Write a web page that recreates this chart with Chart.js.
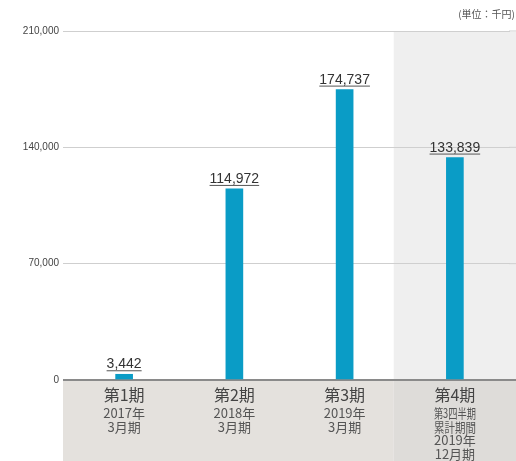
<!DOCTYPE html>
<html><head><meta charset="utf-8">
<script src="https://cdn.jsdelivr.net/npm/chart.js@4/dist/chart.umd.min.js"></script>
<style>html,body{margin:0;padding:0;background:#fff;}#wrap{width:516px;height:461px;}</style>
</head><body><div id="wrap"><canvas id="c" width="516" height="461"></canvas></div>
<script>
const categories = ['第1期','第2期','第3期','第4期'];
const subLabels = [['2017年','3月期'],['2018年','3月期'],['2019年','3月期'],['第3四半期','累計期間','2019年','12月期']];
const values = [3442, 114972, 174737, 133839];
const yTicks = [0, 70000, 140000, 210000];
const unitLabel = '(単位：千円)';

const JP = "'Noto Sans CJK JP', 'Noto Sans', sans-serif";
const NUM = "'Liberation Sans', Arial, sans-serif";

const deco = {
  id: 'deco',
  beforeDraw(chart) {
    const {ctx, chartArea: a, scales: {x, y}} = chart;
    const W = chart.width, H = chart.height;
    const split = (x.getPixelForValue(2) + x.getPixelForValue(3)) / 2 - 6;
    ctx.save();
    ctx.fillStyle = '#efefef';
    ctx.fillRect(split, y.getPixelForValue(210000) + 1, W - split, a.bottom - y.getPixelForValue(210000));
    ctx.fillStyle = '#e4e1dd';
    ctx.fillRect(a.left - 6, a.bottom, split - (a.left - 6), H - a.bottom);
    ctx.fillStyle = '#dedcd9';
    ctx.fillRect(split, a.bottom, W - split, H - a.bottom);
    ctx.restore();
  },
  afterDatasetsDraw(chart) {
    const {ctx, chartArea: a, scales: {x, y}} = chart;
    const W = chart.width;
    ctx.save();
    yTicks.forEach(v => {
      const py = y.getPixelForValue(v);
      ctx.strokeStyle = v === 0 ? '#8a8a8a' : '#cfcfcf';
      ctx.lineWidth = v === 0 ? 2 : 1;
      ctx.beginPath(); ctx.moveTo(a.right - 1, py); ctx.lineTo(W, py); ctx.stroke();
    });
    const meta = chart.getDatasetMeta(0);
    ctx.font = "14px " + NUM;
    ctx.textAlign = 'center';
    ctx.textBaseline = 'alphabetic';
    meta.data.forEach((bar, i) => {
      const txt = values[i].toLocaleString('en-US');
      const by = bar.y - 6;
      ctx.fillStyle = '#333';
      ctx.fillText(txt, bar.x, by);
      const w = ctx.measureText(txt).width;
      ctx.strokeStyle = '#555';
      ctx.lineWidth = 1;
      ctx.beginPath(); ctx.moveTo(bar.x - w / 2, by + 2.5); ctx.lineTo(bar.x + w / 2, by + 2.5); ctx.stroke();
    });
    ctx.textBaseline = 'middle';
    categories.forEach((c, i) => {
      const cx = x.getPixelForValue(i);
      ctx.fillStyle = '#444';
      ctx.font = "16px " + JP;
      ctx.fillText(c, cx, a.bottom + 15);
      ctx.fillStyle = '#555';
      ctx.font = "13px " + JP;
      subLabels[i].forEach((s, j) => {
        const w = ctx.measureText(s).width;
        const k = Math.min(1, 42 / w);
        ctx.save(); ctx.translate(cx, a.bottom + 33 + j * 13.7); ctx.scale(k, 1);
        ctx.fillText(s, 0, 0); ctx.restore();
      });
    });
    ctx.fillStyle = '#555';
    ctx.font = "10px " + JP;
    ctx.textAlign = 'right';
    ctx.fillText(unitLabel, W - 1, 14);
    ctx.restore();
  }
};

new Chart(document.getElementById('c'), {
  type: 'bar',
  data: {
    labels: categories,
    datasets: [{ data: values, backgroundColor: '#0a9cc6', barThickness: 17 }]
  },
  options: {
    responsive: false,
    animation: false,
    layout: { padding: { top: 31, right: 6, bottom: 81, left: 0 } },
    plugins: { legend: { display: false }, tooltip: { enabled: false } },
    scales: {
      x: { display: false, offset: true, grid: { display: false } },
      y: {
        min: 0, max: 210000,
        afterBuildTicks(scale) { scale.ticks = yTicks.map(v => ({ value: v })); },
        afterFit(scale) { scale.width = 69; },
        border: { display: false },
        grid: {
          color: c => c.tick && c.tick.value === 0 ? '#8a8a8a' : '#cfcfcf',
          lineWidth: c => c.tick && c.tick.value === 0 ? 2 : 1,
          tickLength: 6, tickColor: c => c.tick && c.tick.value === 0 ? '#8a8a8a' : '#cfcfcf'
        },
        ticks: {
          padding: 4, color: '#444',
          font: { family: NUM, size: 10 },
          callback: v => v.toLocaleString('en-US')
        }
      }
    }
  },
  plugins: [deco]
});
</script>
</body></html>
